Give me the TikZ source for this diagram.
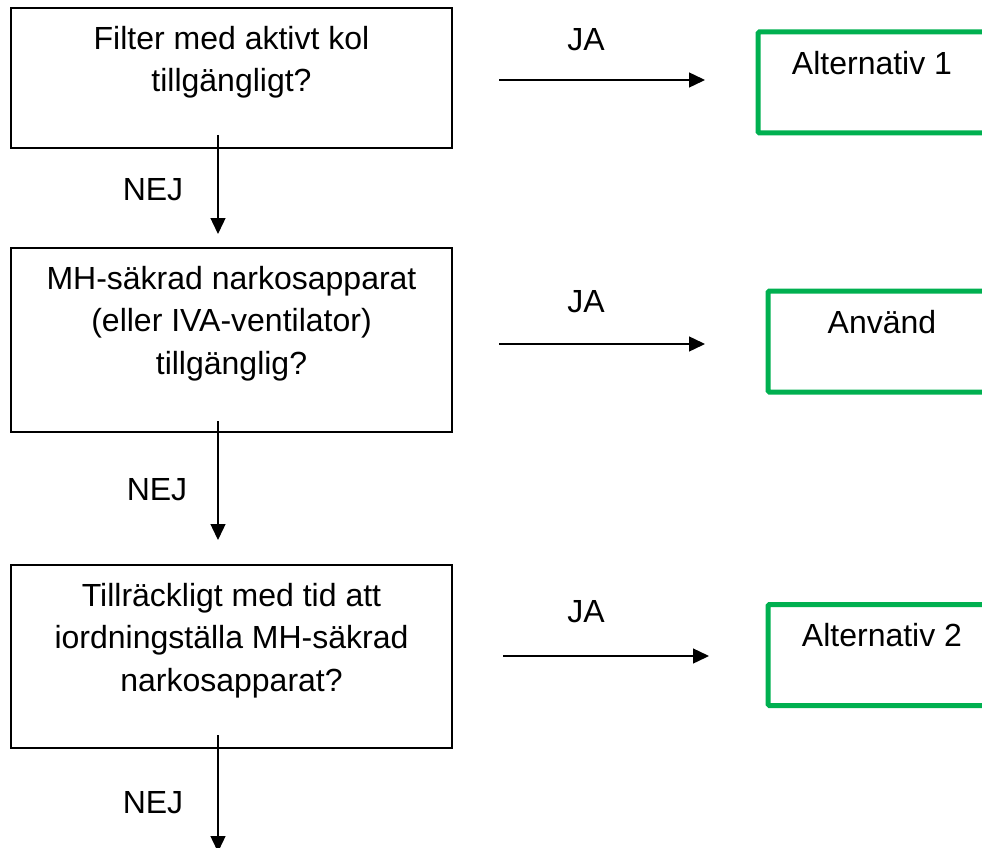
\documentclass[tikz,border=0pt]{standalone}
\usepackage{fontspec}
\setmainfont{Liberation Sans}
\usetikzlibrary{arrows.meta}
\definecolor{okgreen}{HTML}{00B050}

\tikzset{
  question/.style={draw, line width=1.6pt, outer sep=0pt, minimum width=441pt},
  answer/.style={draw=okgreen, line width=5pt, rounded corners=1.5pt, outer sep=0pt, minimum width=228pt, minimum height=101pt},
  boxtext/.style={anchor=north, inner sep=0pt, align=center, font=\fontsize{32}{42.5}\selectfont},
  reply/.style={inner sep=0pt, font=\fontsize{32}{38}\selectfont},
  flow/.style={line width=1.4pt, -{Triangle[length=16pt, width=15pt]}}
}

\begin{document}
\begin{tikzpicture}[x=1pt, y=-1pt]
        \useasboundingbox (0,0) rectangle (982,848);
        \clip (0,0) rectangle (982,848);

        % Filter question
        \node[question, minimum height=140pt] (q1) at (231.5,78) {};
        \node[boxtext] (q1t) at ([yshift=-18pt]q1.north) {Filter med aktivt kol \\ tillgängligt?};
        \node[answer] (a1) at (872,82.5) {};
        \node[boxtext] (a1t) at ([yshift=-19pt]a1.north) {Alternativ 1};

        % Narkosapparat question
        \node[question, minimum height=184pt] (q2) at (231.5,340) {};
        \node[boxtext] (q2t) at ([yshift=-18pt]q2.north) {MH-säkrad narkosapparat \\ (eller IVA-ventilator) \\ tillgänglig?};
        \node[answer] (a2) at (882,341.5) {};
        \node[boxtext] (a2t) at ([yshift=-19pt]a2.north) {Använd};

        % Tid question
        \node[question, minimum height=183pt] (q3) at (231.5,656.5) {};
        \node[boxtext] (q3t) at ([yshift=-18pt]q3.north) {Tillräckligt med tid att \\ iordningställa MH-säkrad \\ narkosapparat?};
        \node[answer] (a3) at (882,655) {};
        \node[boxtext] (a3t) at ([yshift=-19pt]a3.north) {Alternativ 2};

        % JA arrows
        \coordinate (ja1s) at (499,80);   \coordinate (ja1e) at (705,80);
        \coordinate (ja2s) at (499,344);  \coordinate (ja2e) at (705,344);
        \coordinate (ja3s) at (503,656);  \coordinate (ja3e) at (709,656);
        \draw[flow] (ja1s) -- (ja1e);
        \draw[flow] (ja2s) -- (ja2e);
        \draw[flow] (ja3s) -- (ja3e);
        \node[reply] (ja1) at (586,40) {JA};
        \node[reply] (ja2) at (586,302) {JA};
        \node[reply] (ja3) at (586,612) {JA};

        % NEJ arrows
        \coordinate (nej1s) at (218,135); \coordinate (nej1e) at (218,234);
        \coordinate (nej2s) at (218,421); \coordinate (nej2e) at (218,540);
        \coordinate (nej3s) at (218,735); \coordinate (nej3e) at (218,852);
        \draw[flow] (nej1s) -- (nej1e);
        \draw[flow] (nej2s) -- (nej2e);
        \draw[flow] (nej3s) -- (nej3e);
        \node[reply] (nej1) at (153,190) {NEJ};
        \node[reply] (nej2) at (157,490) {NEJ};
        \node[reply] (nej3) at (153,803) {NEJ};
    \end{tikzpicture}
\end{document}
